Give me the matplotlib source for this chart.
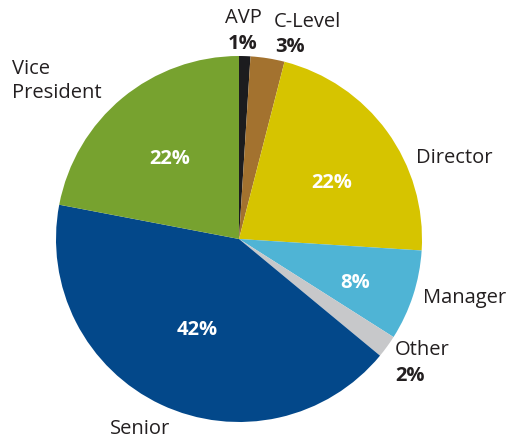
import matplotlib.pyplot as plt

plt.rcParams['font.family'] = ['Open Sans', 'DejaVu Sans']

# 数据
categories = ['AVP', 'C-Level', 'Director', 'Manager', 'Other', 'Senior', 'Vice\nPresident']
shares = [1, 3, 22, 8, 2, 42, 22]
colors = ['#1c1c1e', '#a3722f', '#d6c400', '#4fb4d5', '#c7c8ca', '#03488a', '#77a22f']

W, H = 512, 439
CX, CY, R = 239, H - 240, 183

fig = plt.figure(figsize=(W / 100, H / 100), dpi=100)
ax = fig.add_axes([0, 0, 1, 1])
ax.pie(shares, colors=colors, startangle=90, counterclock=False,
       center=(CX, CY), radius=R, wedgeprops=dict(linewidth=0))
ax.set_xlim(0, W)
ax.set_ylim(0, H)
ax.set_aspect('equal')
ax.axis('off')

TXT = '#231f20'
LBL = 14.5
PCT = 14.5

# 标签位置 (像素, 上方为原点)
name_pos = {
    'AVP': (243, 18, 'center'),
    'C-Level': (274, 22, 'left'),
    'Director': (416, 158, 'left'),
    'Manager': (423, 298, 'left'),
    'Other': (395, 350, 'left'),
    'Senior': (140, 429, 'center'),
    'Vice\nPresident': (12, 81, 'left'),
}
pct_outside = {
    'AVP': (243, 44, 'center'),
    'C-Level': (275, 47, 'left'),
    'Other': (395, 376, 'left'),
}
pct_inside = {
    'Director': (332, 183),
    'Manager': (355, 283),
    'Senior': (197, 330),
    'Vice\nPresident': (170, 159),
}

for cat, val in zip(categories, shares):
    x, y, ha = name_pos[cat]
    ax.text(x, H - y, cat, ha=ha, va='center', fontsize=LBL, color=TXT,
            linespacing=1.2)
    if cat in pct_outside:
        x, y, ha = pct_outside[cat]
        ax.text(x, H - y, f'{val}%', ha=ha, va='center', fontsize=PCT,
                fontweight='bold', color=TXT)
    else:
        x, y = pct_inside[cat]
        ax.text(x, H - y, f'{val}%', ha='center', va='center', fontsize=PCT,
                fontweight='bold', color='white')

fig.savefig('out.png', dpi=100)
